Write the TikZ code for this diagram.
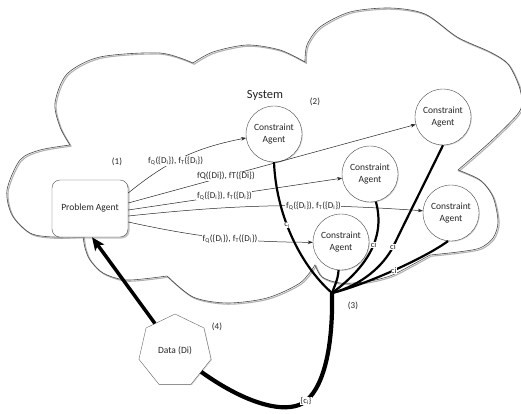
\documentclass[tikz,border=0pt]{standalone}
\usepackage{fontspec}
\setmainfont{Carlito}
\usetikzlibrary{shapes.geometric,shadows,arrows.meta}

% outline of the "System" cloud, lobe by lobe (cusps between lobes)
\newcommand{\systemcloud}{%
  plot[smooth] coordinates {(70,145) (60,127) (55,103) (67,74) (100,57) (160,53) (193,63)}
  -- plot[smooth] coordinates {(193,63) (213,52) (247,45) (280,50) (305,62)}
  -- plot[smooth] coordinates {(305,62) (307,45) (320,27) (350,12) (390,8) (425,14) (457,37) (490,52) (508,64) (519,86) (522,103) (517,115) (490,142) (458,170)}
  -- plot[smooth] coordinates {(458,170) (480,180) (493,197) (498,222) (493,238) (480,248) (458,252) (430,255)}
  -- plot[smooth] coordinates {(430,255) (410,266) (390,276) (365,282) (340,283) (322,277) (315,265)}
  -- plot[smooth] coordinates {(315,265) (300,283) (267,298) (227,303) (193,297) (167,276)}
  -- plot[smooth] coordinates {(167,276) (127,280) (103,273) (90,260) (85,248) (83,236)}
  -- plot[smooth] coordinates {(83,236) (53,237) (30,233) (12,215) (7,190) (20,160) (40,150) (70,145)}}

\begin{document}
\begin{tikzpicture}[x=1pt,y=-1pt,
  agent/.style={circle, draw=black!70, fill=white, minimum size=56pt, inner sep=0pt,
    align=center, text=black!85, font=\fontsize{9.5}{11.5}\selectfont,
    drop shadow={shadow xshift=0.8pt, shadow yshift=-0.8pt, opacity=0.35}},
  flow/.style={draw=black!85, line width=0.5pt, -{Stealth[length=5pt,width=3.6pt]}},
  flowlabel/.style={fill=white, inner sep=0.6pt, text=black!85, font=\fontsize{9}{10}\selectfont},
  branch/.style={draw=black, line width=2.2pt},
  cilabel/.style={fill=white, inner sep=0.3pt, text=black!85, font=\fontsize{8.5}{9}\selectfont},
  tag/.style={text=black!85, font=\fontsize{9}{10}\selectfont}]

\useasboundingbox (0,0) rectangle (521,413);
\fill[white] (0,0) rectangle (521,413);

% cloud with a soft shadow
\draw[black!30, line width=1.1pt, shift={(1.2pt,-1.2pt)}] \systemcloud;
\draw[black!70, line width=0.6pt] \systemcloud;

% agents and data store
\node[draw=black!70, fill=white, rounded corners=8pt, minimum width=76pt, minimum height=57pt,
  text=black!85, font=\fontsize{9.5}{11.5}\selectfont,
  drop shadow={shadow xshift=1.6pt, shadow yshift=-1.6pt, opacity=0.45}] (pa) at (90,208.5) {Problem Agent};
\node[agent] (c1) at (274,134) {Constraint\\Agent};
\node[agent] (c2) at (443,117) {Constraint\\Agent};
\node[agent] (c3) at (370,174) {Constraint\\Agent};
\node[agent] (c4) at (451,213) {Constraint\\Agent};
\node[agent] (c5) at (341,242) {Constraint\\Agent};
\node[regular polygon, regular polygon sides=7, minimum size=74pt, inner sep=0pt,
  draw=black!60, fill=white, text=black!85, font=\fontsize{9.5}{11.5}\selectfont,
  drop shadow={shadow xshift=0.8pt, shadow yshift=-0.8pt, opacity=0.3}] (data) at (175,351) {Data (Di)};
\coordinate (J) at (332,293);

% texts
\node[text=black!85, font=\fontsize{12.5}{14}\selectfont] (sys) at (265,95) {System};
\node[tag] (n1) at (117,162) {(1)};
\node[tag] (n2) at (315,102) {(2)};
\node[tag] (n3) at (353,306) {(3)};
\node[tag] (n4) at (217,327) {(4)};

% requests from the problem agent
\draw[flow] ([yshift=15.5pt]pa.east) to[bend left=14]
  node[flowlabel, pos=0.43] {f\textsubscript{Q}(\{D\textsubscript{i}\}), f\textsubscript{T}(\{D\textsubscript{i}\})} (c1);
\draw[flow] ([yshift=5.5pt]pa.east) --
  node[flowlabel, pos=0.34] {fQ(\{Di\}), fT(\{Di\})} (c2);
\draw[flow] ([yshift=-1.5pt]pa.east) --
  node[flowlabel, pos=0.45] {f\textsubscript{Q}(\{D\textsubscript{i}\}), f\textsubscript{T}(\{D\textsubscript{i}\})} (c3);
\draw[flow] ([yshift=-7.5pt]pa.east) to[bend left=5]
  node[flowlabel, pos=0.64] {f\textsubscript{Q}(\{D\textsubscript{i}\}), f\textsubscript{T}(\{D\textsubscript{i}\})} (c4);
\draw[flow] ([yshift=-13.5pt]pa.east) to[bend right=6]
  node[flowlabel, pos=0.56] {f\textsubscript{Q}(\{D\textsubscript{i}\}), f\textsubscript{T}(\{D\textsubscript{i}\})} (c5);

% constraint values gathered at the junction
\draw[branch] (c1.south) .. controls (276,212) and (298,263) .. (J)
  node[cilabel, pos=0.43] {c\textsubscript{i}};
\draw[branch] (c5.265) .. controls (338,280) and (334,287) .. (J);
\draw[branch] (c3.282) .. controls (385,235) and (370,265) .. (J)
  node[cilabel, pos=0.45] {ci};
\draw[branch] (c2.south) .. controls (430,172) and (405,222) .. (393,247) node[cilabel] {ci}
  .. controls (383,266) and (362,285) .. (J);
\draw[branch] (c4.264) .. controls (425,258) and (365,285) .. (J)
  node[cilabel, pos=0.5] {ci};

% collected set stored as data
\draw[line width=4.2pt] (J) .. controls (333,340) and (326,384) .. (306,401)
  node[cilabel] {\{c\textsubscript{i}\}}
  .. controls (290,414) and (252,408) .. (data.side 5);

% data fed back to the problem agent
\draw[line width=3.5pt, -{Stealth[length=13pt,width=11pt,inset=3pt]}] (data) -- ([xshift=2pt]pa.south);
\end{tikzpicture}
\end{document}
